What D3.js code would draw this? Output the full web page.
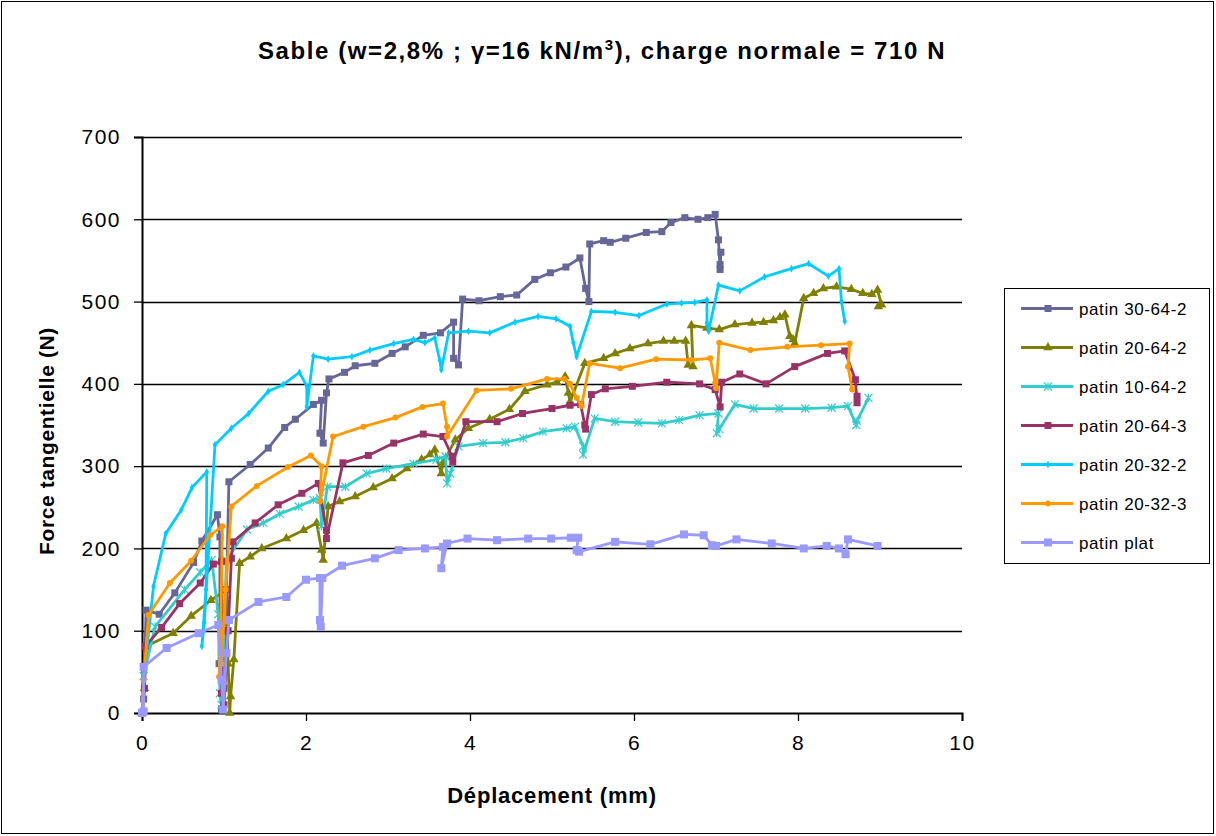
<!DOCTYPE html>
<html>
<head>
<meta charset="utf-8">
<script src="https://cdn.jsdelivr.net/npm/d3@7"></script>
<style>
  body { margin: 0; background: #fff; }
  svg { display: block; font-family: "Liberation Sans", Arial, sans-serif; }
</style>
</head>
<body>
<div id="chart"></div>
<script>
// data: [déplacement mm, force N]
const patin30_64_2 = [[0,0],[0.02,17],[0.05,125],[0.21,120],[0.40,146],[0.63,183],[0.73,209],[0.92,241],[0.95,214],[0.95,129],[0.94,60],[0.97,5],[1.0,30],[1.03,150],[1.06,281],[1.32,302],[1.54,322],[1.74,347],[1.87,357],[2.09,375],[2.19,380],[2.17,340],[2.21,328],[2.25,389],[2.28,406],[2.47,414],[2.60,422],[2.84,425],[3.05,437],[3.21,445],[3.43,459],[3.64,462],[3.80,475],[3.80,431],[3.86,423],[3.91,503],[4.11,501],[4.37,506],[4.57,508],[4.79,527],[4.98,535],[5.17,542],[5.34,553],[5.41,516],[5.45,500],[5.46,570],[5.63,574],[5.71,572],[5.90,577],[6.15,584],[6.34,585],[6.45,596],[6.62,602],[6.78,600],[6.90,602],[6.99,606],[7.03,575],[7.05,539],[7.06,560],[7.05,545]];
const patin20_64_2 = [[0,0],[0.03,30],[0.05,81],[0.38,97],[0.60,118],[0.84,137],[1.03,150],[1.05,60],[1.07,0],[1.08,20],[1.12,65],[1.19,182],[1.32,190],[1.46,200],[1.76,212],[1.97,222],[2.13,231],[2.19,198],[2.21,186],[2.27,251],[2.41,257],[2.60,263],[2.82,274],[3.05,285],[3.23,297],[3.41,308],[3.51,314],[3.57,320],[3.65,291],[3.67,304],[3.82,332],[3.98,346],[4.24,357],[4.48,369],[4.67,391],[4.94,399],[5.06,402],[5.16,409],[5.20,389],[5.22,378],[5.40,425],[5.63,431],[5.77,437],[5.95,443],[6.17,449],[6.36,452],[6.49,452],[6.63,452],[6.66,423],[6.72,421],[6.70,471],[6.89,468],[7.04,466],[7.23,472],[7.44,474],[7.58,475],[7.70,477],[7.78,481],[7.84,484],[7.90,458],[7.94,454],[7.96,449],[8.07,504],[8.19,510],[8.31,516],[8.47,518],[8.65,515],[8.79,510],[8.90,509],[8.97,514],[9.02,496],[8.98,494]];
const patin10_64_2 = [[0,0],[0.02,45],[0.16,105],[0.52,150],[0.71,171],[0.85,186],[0.93,120],[0.95,24],[0.97,10],[1.00,100],[1.03,186],[1.28,223],[1.48,231],[1.68,242],[1.91,251],[2.09,259],[2.17,261],[2.19,227],[2.26,275],[2.48,275],[2.74,291],[2.98,297],[3.31,303],[3.59,308],[3.70,312],[3.72,279],[3.76,291],[3.86,324],[4.16,328],[4.43,329],[4.65,334],[4.89,342],[5.18,346],[5.28,348],[5.38,324],[5.38,314],[5.52,358],[5.77,354],[6.05,353],[6.34,352],[6.55,356],[6.80,362],[7.03,364],[7.01,340],[7.04,345],[7.23,375],[7.46,370],[7.77,370],[8.09,370],[8.41,371],[8.61,373],[8.71,350],[8.72,355],[8.86,383]];
const patin20_64_3 = [[0,0],[0.03,30],[0.04,81],[0.24,104],[0.46,133],[0.71,158],[0.87,181],[0.97,184],[0.98,100],[0.97,24],[1.0,10],[1.05,100],[1.09,188],[1.11,208],[1.38,231],[1.66,253],[1.95,267],[2.15,279],[2.25,222],[2.25,212],[2.45,304],[2.76,313],[3.07,328],[3.43,339],[3.67,336],[3.78,312],[3.79,305],[3.95,354],[4.33,354],[4.64,364],[5.00,370],[5.22,374],[5.35,375],[5.40,350],[5.41,345],[5.48,387],[5.65,394],[5.98,397],[6.40,402],[6.80,400],[6.99,393],[7.05,372],[7.07,402],[7.29,412],[7.61,400],[7.96,421],[8.36,437],[8.57,440],[8.70,405],[8.72,377],[8.72,385]];
const patin20_32_2 = [[0,0],[0.03,50],[0.14,154],[0.29,218],[0.48,247],[0.61,274],[0.79,293],[0.78,150],[0.73,81],[0.76,110],[0.89,326],[1.09,346],[1.30,364],[1.54,391],[1.72,399],[1.92,414],[2.01,397],[2.01,372],[2.09,434],[2.27,430],[2.56,433],[2.78,441],[3.07,449],[3.31,454],[3.45,450],[3.57,456],[3.63,429],[3.65,417],[3.74,462],[3.98,464],[4.24,462],[4.55,475],[4.83,482],[5.05,479],[5.22,470],[5.26,450],[5.30,433],[5.48,488],[5.77,487],[6.06,483],[6.40,497],[6.58,498],[6.74,499],[6.89,502],[6.89,474],[6.91,464],[7.03,520],[7.29,513],[7.59,530],[7.92,540],[8.13,546],[8.37,531],[8.50,540],[8.53,500],[8.57,476]];
const patin20_32_3 = [[0,0],[0.02,40],[0.08,119],[0.34,158],[0.60,185],[0.83,216],[0.98,227],[0.96,100],[0.94,44],[0.97,60],[1.02,150],[1.09,251],[1.40,276],[1.78,299],[2.06,313],[2.19,300],[2.17,257],[2.33,336],[2.70,348],[3.09,359],[3.42,372],[3.67,376],[3.72,348],[3.72,336],[4.08,392],[4.50,394],[4.94,406],[5.15,406],[5.22,400],[5.30,383],[5.36,373],[5.46,425],[5.83,419],[6.27,430],[6.70,429],[6.93,431],[6.99,401],[7.00,395],[7.04,450],[7.42,441],[7.87,445],[8.28,447],[8.63,449],[8.61,421],[8.66,393]];
const patinPlat = [[0,0],[0.02,2],[0.02,56],[0.30,79],[0.69,97],[0.93,107],[0.97,40],[0.99,4],[1.03,73],[1.06,113],[1.42,135],[1.76,141],[2.00,162],[2.17,164],[2.17,113],[2.18,105],[2.20,164],[2.44,179],[2.84,188],[3.13,198],[3.45,200],[3.67,202],[3.65,176],[3.72,206],[3.97,212],[4.33,210],[4.71,212],[4.99,212],[5.23,213],[5.32,213],[5.30,198],[5.33,196],[5.77,208],[6.20,205],[6.61,217],[6.85,216],[6.95,204],[7.00,203],[7.25,211],[7.68,206],[8.07,200],[8.35,203],[8.50,200],[8.58,193],[8.61,211],[8.97,203]];

const seriesNames = ["patin 30-64-2", "patin 20-64-2", "patin 10-64-2", "patin 20-64-3", "patin 20-32-2", "patin 20-32-3", "patin plat"];
const seriesData = [patin30_64_2, patin20_64_2, patin10_64_2, patin20_64_3, patin20_32_2, patin20_32_3, patinPlat];
const xTicks = [0, 2, 4, 6, 8, 10];
const yTicks = [0, 100, 200, 300, 400, 500, 600, 700];

const colors = ["#666699", "#808000", "#33CCCC", "#993366", "#00CCFF", "#FF9900", "#9999FF"];
const markers = ["square", "triangle", "x", "square", "diamond", "circle", "square"];

const W = 1216, H = 836;
const svg = d3.select("#chart").append("svg").attr("width", W).attr("height", H);

svg.append("rect").attr("x", 1.5).attr("y", 1.5).attr("width", W - 4).attr("height", H - 4)
  .attr("fill", "#fff").attr("stroke", "#000").attr("stroke-width", 1);

const x = d3.scaleLinear().domain([0, 10]).range([142, 962]);
const y = d3.scaleLinear().domain([0, 700]).range([713, 137]);

// gridlines
svg.append("g").selectAll("line").data(yTicks.filter(d => d > 0)).join("line")
  .attr("x1", x(0)).attr("x2", x(10))
  .attr("y1", d => Math.round(y(d)) + 0.5).attr("y2", d => Math.round(y(d)) + 0.5)
  .attr("stroke", "#000").attr("stroke-width", 1.3);

// axes
const yAxis = svg.append("g").attr("transform", `translate(${x(0)},0)`)
  .call(d3.axisLeft(y).tickValues(yTicks).tickSize(8).tickPadding(13).tickFormat(d3.format("d")));
const xAxis = svg.append("g").attr("transform", `translate(0,${y(0)})`)
  .call(d3.axisBottom(x).tickValues(xTicks).tickSize(8).tickPadding(14).tickFormat(d3.format("d")));
[xAxis, yAxis].forEach(a => {
  a.select(".domain").attr("stroke", "#000").attr("stroke-width", 2);
  a.selectAll(".tick line").attr("stroke", "#000").attr("stroke-width", 1.3);
  a.selectAll("text").attr("font-size", 21).attr("fill", "#000").attr("letter-spacing", 1.5)
    .attr("font-family", "'Liberation Sans', Arial, sans-serif");
});

const line = d3.line().x(d => x(d[0])).y(d => y(d[1]));

function drawMarker(g, type, color, cx, cy, s) {
  if (type === "square") {
    g.append("rect").attr("x", cx - s / 2).attr("y", cy - s / 2).attr("width", s).attr("height", s).attr("fill", color);
  } else if (type === "triangle") {
    g.append("path").attr("d", d3.symbol(d3.symbolTriangle, s * s * 0.8)()).attr("transform", `translate(${cx},${cy})`).attr("fill", color);
  } else if (type === "x") {
    const r = s / 2;
    g.append("path").attr("d", `M${cx - r},${cy - r}L${cx + r},${cy + r}M${cx - r},${cy + r}L${cx + r},${cy - r}M${cx},${cy - r}L${cx},${cy + r}`)
      .attr("stroke", color).attr("stroke-width", 1.2).attr("fill", "none");
  } else if (type === "diamond") {
    g.append("path").attr("d", d3.symbol(d3.symbolDiamond, s * s * 0.35)()).attr("transform", `translate(${cx},${cy})`).attr("fill", color);
  } else {
    g.append("circle").attr("cx", cx).attr("cy", cy).attr("r", s / 2 - 0.5).attr("fill", color);
  }
}

const markSize = [7, 7, 8, 7, 7, 7, 8];

seriesData.forEach((data, i) => {
  const g = svg.append("g");
  g.append("path").datum(data).attr("d", line)
    .attr("fill", "none").attr("stroke", colors[i]).attr("stroke-width", 2.8).attr("stroke-linejoin", "round");
  data.forEach(d => drawMarker(g, markers[i], colors[i], x(d[0]), y(d[1]), markSize[i]));
});

// title
const title = svg.append("text").attr("x", 602).attr("y", 59).attr("text-anchor", "middle")
  .attr("font-size", 24).attr("font-weight", "bold").attr("letter-spacing", 1.6).attr("fill", "#000");
title.append("tspan").text("Sable (w=2,8% ; γ=16 kN/m");
title.append("tspan").attr("font-size", 15).attr("dy", -9).text("3");
title.append("tspan").attr("dy", 9).text("), charge normale = 710 N");

// axis titles
svg.append("text").attr("x", 552).attr("y", 803).attr("text-anchor", "middle")
  .attr("font-size", 22).attr("font-weight", "bold").attr("letter-spacing", 0.8).text("Déplacement (mm)");
svg.append("text").attr("transform", "translate(54,441) rotate(-90)").attr("text-anchor", "middle")
  .attr("font-size", 21).attr("font-weight", "bold").attr("letter-spacing", 0.6).text("Force tangentielle (N)");

// legend
const lg = svg.append("g");
lg.append("rect").attr("x", 1004.5).attr("y", 288.5).attr("width", 205).attr("height", 275)
  .attr("fill", "#fff").attr("stroke", "#000").attr("stroke-width", 1);
seriesNames.forEach((name, i) => {
  const ly = 308.5 + i * 39;
  lg.append("line").attr("x1", 1021).attr("x2", 1073).attr("y1", ly).attr("y2", ly)
    .attr("stroke", colors[i]).attr("stroke-width", 2.8);
  drawMarker(lg, markers[i], colors[i], 1048, ly, markSize[i]);
  lg.append("text").attr("x", 1079).attr("y", ly + 6).attr("font-size", 17).attr("letter-spacing", 0.6)
    .attr("fill", "#000").text(name);
});
</script>
</body>
</html>
